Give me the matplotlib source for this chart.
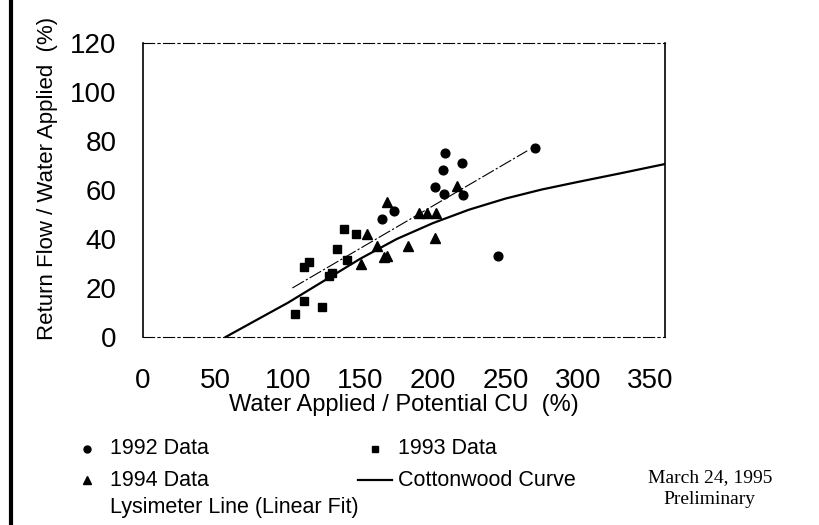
import matplotlib.pyplot as plt
import numpy as np

plt.rcParams['font.family'] = ['Liberation Sans', 'DejaVu Sans']

# datos
x_1992 = [165, 173, 201.6, 207.4, 207, 208.5, 220, 221, 244.8, 270.5]
y_1992 = [48, 51.5, 61.3, 58.2, 68.2, 75.2, 70.9, 58, 33.2, 77.3]

x_1993 = [104.6, 111, 123.7, 111, 114.5, 128, 130, 134, 138.5, 147, 141]
y_1993 = [9.4, 14.8, 12.1, 28.4, 30.7, 25, 26, 36, 44, 42, 31.4]

x_1994 = [150, 154.6, 161.5, 166, 168.5, 168.4, 182.6, 190, 196, 202, 201.5, 216.6]
y_1994 = [30, 42, 37, 32.8, 33, 55.2, 37, 50.5, 50.5, 50.5, 40.3, 61.5]

# curva Cottonwood
cw_x = [57, 80, 100, 125, 150, 175, 200, 225, 250, 275, 300, 330, 360]
cw_y = [0, 7.5, 14, 23, 32, 40, 46.5, 52, 56.5, 60.2, 63.3, 66.9, 70.6]

# linea del lisimetro (ajuste lineal)
lys_x = [103, 265]
lys_y = [20, 76]

x_ticks = [0, 50, 100, 150, 200, 250, 300, 350]
y_ticks = [0, 20, 40, 60, 80, 100, 120]

fig = plt.figure(figsize=(8.2, 5.25), dpi=100)
ax = fig.add_axes([143 / 820, 1 - 337 / 525, 522 / 820, 294 / 525])

ax.plot(cw_x, cw_y, color='black', lw=1.6, zorder=2)
ax.plot(lys_x, lys_y, color='black', lw=0.8, linestyle=(0, (12, 2, 2, 2)), zorder=2)
ax.plot(x_1992, y_1992, 'o', color='black', ms=6.3, zorder=3)
ax.plot(x_1993, y_1993, 's', color='black', ms=6, zorder=3)
ax.plot(x_1994, y_1994, '^', color='black', ms=6.5, zorder=3)

ax.set_xlim(0, 360)
ax.set_ylim(0, 120)
ax.set_xticks(x_ticks)
ax.set_yticks(y_ticks)
ax.tick_params(axis='x', length=0, pad=22, labelsize=20)
ax.tick_params(axis='y', length=0, pad=19, labelsize=20)

for side in ['left', 'right']:
    ax.spines[side].set_linewidth(1.2)
for side in ['top', 'bottom']:
    ax.spines[side].set_linewidth(0.8)
    ax.spines[side].set_linestyle((0, (10, 3, 2, 3)))

ax.set_xlabel('Water Applied / Potential CU  (%)', fontsize=17)
ax.xaxis.set_label_coords(0.5, (337 - 405) / 294)
ax.xaxis.label.set_va('center')
ax.set_ylabel('Return Flow / Water Applied  (%)', fontsize=16)
ax.yaxis.set_label_coords((48 - 143) / 522, (337 - 178) / 294)
ax.yaxis.label.set_va('center')

# leyenda dibujada a mano debajo del grafico
lg = fig.add_axes([0, 0, 1, 1], zorder=-1)
lg.set_xlim(0, 820)
lg.set_ylim(525, 0)
lg.axis('off')
lg.plot([87], [449], 'o', color='black', ms=5)
lg.plot([375], [449], 's', color='black', ms=5)
lg.plot([87], [480], '^', color='black', ms=5.5)
lg.plot([358, 392], [480, 480], color='black', lw=1.6)
lg.plot([11, 11], [0, 525], color='black', lw=3)
fs = 15.5
lg.text(110, 449, '1992 Data', fontsize=fs, va='center')
lg.text(398, 449, '1993 Data', fontsize=fs, va='center')
lg.text(110, 480, '1994 Data', fontsize=fs, va='center')
lg.text(398, 480, 'Cottonwood Curve', fontsize=fs, va='center')
lg.text(110, 508, 'Lysimeter Line (Linear Fit)', fontsize=fs, va='center')
lg.text(710, 478, 'March 24, 1995', fontsize=14, va='center', ha='center',
        family=['Liberation Serif', 'DejaVu Serif'])
lg.text(709, 500, 'Preliminary', fontsize=14, va='center', ha='center',
        family=['Liberation Serif', 'DejaVu Serif'])

plt.savefig('out.png', dpi=100)
